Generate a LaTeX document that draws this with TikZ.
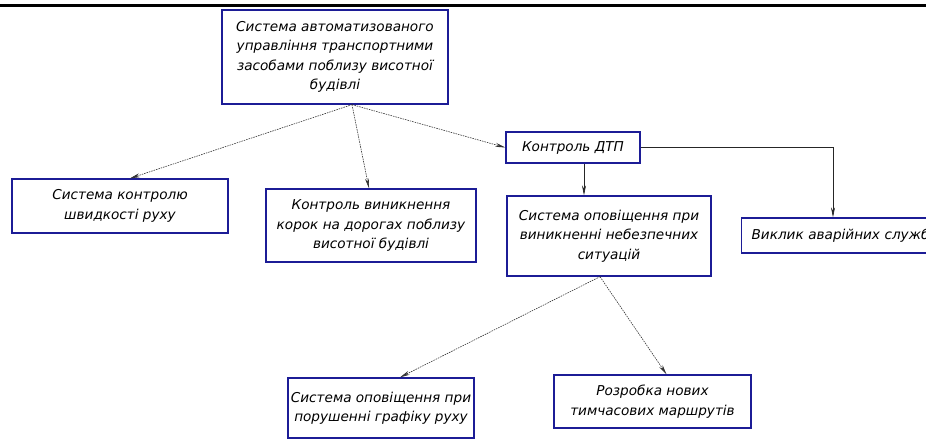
\documentclass[tikz,border=0pt]{standalone}
\usepackage{fontspec}
\setmainfont{DejaVu Sans}
\usetikzlibrary{calc,arrows.meta}
\definecolor{boxblue}{RGB}{28,28,150}
\begin{document}
\begin{tikzpicture}[x=1pt,y=-1pt,
  box/.style={draw=boxblue, line width=1.3pt, fill=white, align=center, inner sep=0pt,
    font=\fontsize{13.6}{19.5}\selectfont\itshape},
  dotarrow/.style={densely dashed, dash pattern=on 1.5pt off 1pt, line width=0.6pt, draw=black!80,
    -{Stealth[length=10pt,width=4pt]}},
  solidarrow/.style={line width=0.7pt, draw=black!85,
    -{Stealth[length=10pt,width=4pt]}}
]
\useasboundingbox (0,0) rectangle (926,439);
\clip (0,0) rectangle (926,439);
\draw[line width=3pt] (0,5.5) -- (926,5.5);

\node[box, minimum width=226pt, minimum height=94pt] (top) at (335,57)
  {Система автоматизованого\\управління транспортними\\засобами поблизу висотної\\будівлі};
\node[box, minimum width=216pt, minimum height=54pt] (A) at (120,206)
  {Система контролю\\швидкості руху};
\node[box, minimum width=210pt, minimum height=73pt] (B) at (371,225.5)
  {Контроль виникнення\\корок на дорогах поблизу\\висотної будівлі};
\node[box, minimum width=134pt, minimum height=31pt] (C) at (573,147.5)
  {Контроль ДТП};
\node[box, minimum width=204pt, minimum height=80pt] (D) at (609,236)
  {Система оповіщення при\\виникненні небезпечних\\ситуацій};
\node[box, anchor=west, align=left, text width=200pt, inner xsep=10pt, minimum height=35pt] (E) at (741,235.5)
  {Виклик аварійних служб};
\node[box, minimum width=186pt, minimum height=60pt] (F) at (381,408)
  {Система оповіщення при\\порушенні графіку руху};
\node[box, minimum width=197pt, minimum height=53pt] (G) at (652.5,401.5)
  {Розробка нових\\тимчасових маршрутів};

\coordinate (o1) at ($(top.south)+(17,0)$);
\coordinate (o2) at ($(D.south)+(-9,0)$);
\coordinate (cd) at ($(C.south)+(11,0)$);
\coordinate (ce) at ($(E.north west)+(92,0)$);

\draw[dotarrow] (o1) -- ($(A.north)+(10,0)$);
\draw[dotarrow] (o1) -- ($(B.north)+(-2,0)$);
\draw[dotarrow] (o1) -- (C.west);
\draw[solidarrow] (cd) -- (cd |- D.north);
\draw[solidarrow] (C.east) -| (ce);
\draw[dotarrow] (o2) -- ($(F.north)+(19,0)$);
\draw[dotarrow] (o2) -- ($(G.north)+(14,0)$);
\end{tikzpicture}
\end{document}
